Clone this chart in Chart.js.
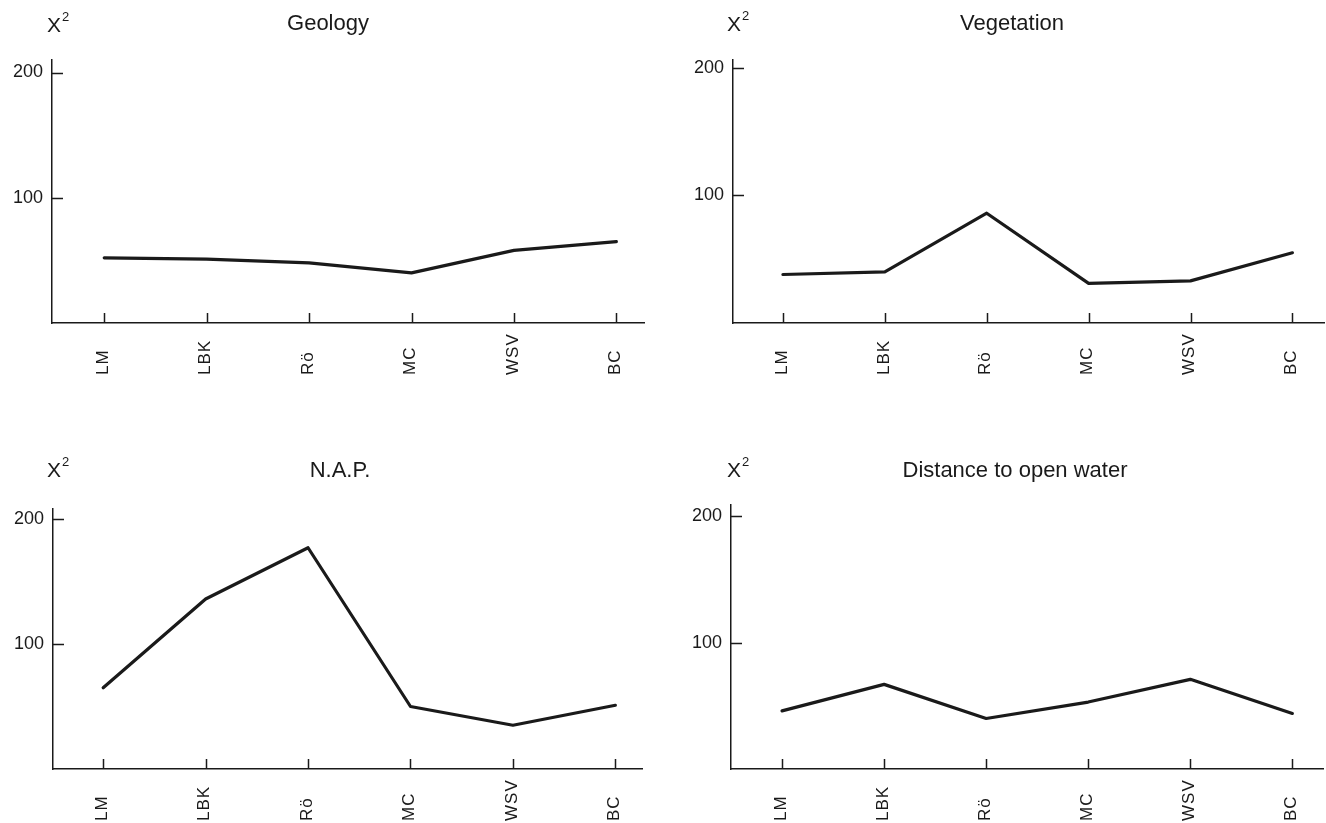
<!DOCTYPE html>
<html>
<head>
<meta charset="utf-8">
<title>Chi-square by period</title>
<script src="https://cdn.jsdelivr.net/npm/chart.js@4.4.1/dist/chart.umd.min.js"></script>
<style>
    html, body { margin: 0; padding: 0; background: #fff; }
    .panel { position: absolute; width: 663px; height: 411px; }
</style>
</head>
<body>
<div class="panel" style="left:0;top:0"><canvas id="geology"></canvas></div>
<div class="panel" style="left:663px;top:0"><canvas id="vegetation"></canvas></div>
<div class="panel" style="left:0;top:411px"><canvas id="nap"></canvas></div>
<div class="panel" style="left:663px;top:411px"><canvas id="distance"></canvas></div>
<script>
// 数据
const categories = ['LM', 'LBK', 'Rö', 'MC', 'WSV', 'BC'];
const geologyValues = [52, 51, 48, 40, 58, 65];
const vegetationValues = [38, 40, 86, 31, 33, 55];
const napValues = [65, 136, 177, 50, 35, 51];
const distanceValues = [46, 67, 40, 53, 71, 44];
const yTickValues = [100, 200];

const FONT = '"Liberation Sans", Arial, Helvetica, sans-serif';
const INK = '#1a1a1a';

// 每个面板的位置 (画布内坐标)
const panels = [
    { id: 'geology', title: 'Geology', values: geologyValues,
      left: 52, right: 644, top: 60, bottom: 323, xMin: -0.51, xMax: 5.27, yMax: 210,
      titleX: 328, titleY: 30, chiX: 47, chiY: 32 },
    { id: 'vegetation', title: 'Vegetation', values: vegetationValues,
      left: 70, right: 661, top: 60, bottom: 323, xMin: -0.49, xMax: 5.31, yMax: 206,
      titleX: 349, titleY: 30, chiX: 64, chiY: 31 },
    { id: 'nap', title: 'N.A.P.', values: napValues,
      left: 53, right: 642, top: 98, bottom: 358, xMin: -0.49, xMax: 5.26, yMax: 208,
      titleX: 340, titleY: 66, chiX: 47, chiY: 66 },
    { id: 'distance', title: 'Distance to open water', values: distanceValues,
      left: 68, right: 660, top: 94, bottom: 358, xMin: -0.5, xMax: 5.3, yMax: 209,
      titleX: 352, titleY: 66, chiX: 64, chiY: 66 }
];

// 内刻度、旋转的分类标签、标题和 χ² 标记
const panelDecor = {
    id: 'panelDecor',
    afterDraw(chart, args, opts) {
        const ctx = chart.ctx;
        const area = chart.chartArea;
        const xs = chart.scales.x;
        const ys = chart.scales.y;
        ctx.save();
        ctx.strokeStyle = INK;
        ctx.lineWidth = 1.5;
        ctx.beginPath();
        categories.forEach((c, i) => {
            const px = Math.round(xs.getPixelForValue(i)) + 0.5;
            ctx.moveTo(px, area.bottom);
            ctx.lineTo(px, area.bottom - 10);
        });
        yTickValues.forEach(v => {
            const py = Math.round(ys.getPixelForValue(v)) + 0.5;
            ctx.moveTo(area.left, py);
            ctx.lineTo(area.left + 11, py);
        });
        ctx.stroke();

        ctx.fillStyle = INK;
        ctx.font = '17px ' + FONT;
        ctx.letterSpacing = '1px';
        ctx.textAlign = 'left';
        ctx.textBaseline = 'middle';
        categories.forEach((c, i) => {
            ctx.save();
            ctx.translate(xs.getPixelForValue(i) - 1, area.bottom + 52);
            ctx.rotate(-Math.PI / 2);
            ctx.fillText(c, 0, 0);
            ctx.restore();
        });

        ctx.letterSpacing = '0px';
        ctx.textBaseline = 'alphabetic';
        ctx.textAlign = 'center';
        ctx.font = '22px ' + FONT;
        ctx.fillText(opts.title, opts.titleX, opts.titleY);

        // 希腊大写 Chi 加上标 2
        ctx.textAlign = 'left';
        ctx.font = '21px ' + FONT;
        ctx.fillText('Χ', opts.chiX, opts.chiY);
        ctx.font = '13px ' + FONT;
        ctx.fillText('2', opts.chiX + 15, opts.chiY - 11);
        ctx.restore();
    }
};

panels.forEach(p => {
    const canvas = document.getElementById(p.id);
    const h = 411;
    new Chart(canvas, {
        type: 'line',
        data: {
            datasets: [{
                data: p.values.map((v, i) => ({ x: i, y: v })),
                borderColor: INK,
                borderWidth: 3.2,
                pointRadius: 0,
                tension: 0,
                borderJoinStyle: 'round',
                borderCapStyle: 'round'
            }]
        },
        options: {
            responsive: true,
            maintainAspectRatio: false,
            animation: false,
            events: [],
            layout: {
                padding: { left: 0, top: p.top, right: 663 - p.right, bottom: 0 }
            },
            plugins: {
                legend: { display: false },
                tooltip: { enabled: false },
                panelDecor: { title: p.title, titleX: p.titleX, titleY: p.titleY, chiX: p.chiX, chiY: p.chiY }
            },
            scales: {
                x: {
                    type: 'linear',
                    min: p.xMin,
                    max: p.xMax,
                    grid: { display: false, drawTicks: false },
                    border: { display: true, color: INK, width: 1.5 },
                    ticks: { display: false },
                    afterFit(scale) { scale.height = h - p.bottom; }
                },
                y: {
                    min: 0,
                    max: p.yMax,
                    grid: { display: false, drawTicks: false },
                    border: { display: true, color: INK, width: 1.5 },
                    afterBuildTicks(scale) { scale.ticks = yTickValues.map(v => ({ value: v })); },
                    ticks: {
                        color: INK,
                        padding: 9,
                        font: { family: FONT, size: 18 }
                    },
                    afterFit(scale) { scale.width = p.left; }
                }
            }
        },
        plugins: [panelDecor]
    });
});
</script>
</body>
</html>
